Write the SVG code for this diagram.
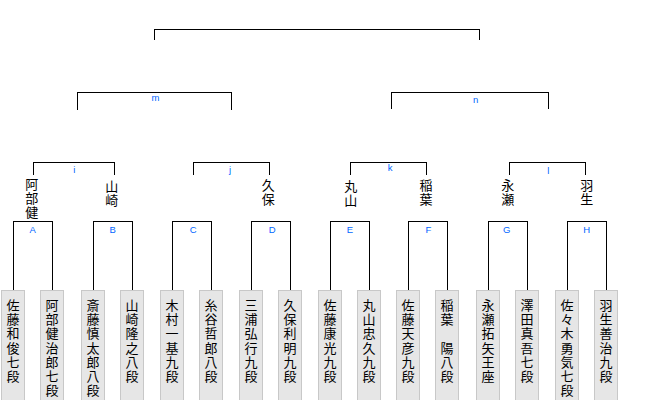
<svg xmlns="http://www.w3.org/2000/svg" width="660" height="400" viewBox="0 0 660 400">
<style>
.ln{fill:none;stroke:#000;stroke-width:1;shape-rendering:crispEdges}
.pb{fill:#e6e6e6;stroke:#c8c8c8;stroke-width:1;shape-rendering:crispEdges}
.nm{font-family:"Noto Sans CJK JP","Noto Sans CJK SC",sans-serif;font-size:13px;fill:#000;writing-mode:vertical-rl;glyph-orientation-vertical:0}
.pn{letter-spacing:1.2px}
.wn{letter-spacing:1px}
.lb{font-family:"Liberation Sans",Arial,sans-serif;font-size:9.5px;fill:#0066ff;text-anchor:middle}
</style>
<rect width="660" height="400" fill="#fff"/>
<g id="connectors">
<path class="ln" d="M154.5,40 V29.5 H479.5 V40"/>
<path class="ln" d="M77.5,110 V92.5 H231.5 V110"/>
<path class="ln" d="M391.5,109 V92.5 H548.5 V109"/>
<path class="ln" d="M33.5,175 V162.5 H114.5 V175"/>
<path class="ln" d="M193.5,175 V162.5 H269.5 V175"/>
<path class="ln" d="M350.5,175 V162.5 H426.5 V175"/>
<path class="ln" d="M509.5,175 V162.5 H585.5 V175"/>
<path class="ln" d="M13.5,290 V221.5 H52.5 V290"/>
<path class="ln" d="M93.5,290 V221.5 H132.5 V290"/>
<path class="ln" d="M172.5,290 V221.5 H211.5 V290"/>
<path class="ln" d="M251.5,290 V221.5 H290.5 V290"/>
<path class="ln" d="M330.5,290 V221.5 H369.5 V290"/>
<path class="ln" d="M408.5,290 V221.5 H447.5 V290"/>
<path class="ln" d="M488.5,290 V221.5 H527.5 V290"/>
<path class="ln" d="M567.5,290 V221.5 H606.5 V290"/>
</g>
<g id="labels">
<text class="lb" x="155.5" y="100.7">m</text>
<text class="lb" x="475.7" y="102.5">n</text>
<text class="lb" x="74.3" y="173.3">i</text>
<text class="lb" x="230" y="173">j</text>
<text class="lb" x="390" y="170.7">k</text>
<text class="lb" x="548.3" y="174">l</text>
<text class="lb" x="32.7" y="233">A</text>
<text class="lb" x="112.7" y="233">B</text>
<text class="lb" x="193.3" y="233">C</text>
<text class="lb" x="272.3" y="233">D</text>
<text class="lb" x="350" y="233">E</text>
<text class="lb" x="428.3" y="233">F</text>
<text class="lb" x="506.7" y="233">G</text>
<text class="lb" x="586.7" y="233">H</text>
</g>
<g id="winners">
<text class="nm wn" x="31.7" y="177.8">阿部健</text>
<text class="nm wn" x="111.7" y="179.5">山崎</text>
<text class="nm wn" x="268.3" y="178.5">久保</text>
<text class="nm wn" x="350.7" y="179.5">丸山</text>
<text class="nm wn" x="426" y="178.5">稲葉</text>
<text class="nm wn" x="507.7" y="178.5">永瀬</text>
<text class="nm wn" x="586.7" y="178.5">羽生</text>
</g>
<g id="p1"><rect class="pb" x="1.5" y="290.5" width="23" height="115"/><text class="nm pn" x="13" y="298.5">佐藤和俊七段</text></g>
<g id="p2"><rect class="pb" x="40.5" y="290.5" width="23" height="115"/><text class="nm pn" x="52" y="298.5">阿部健治郎七段</text></g>
<g id="p3"><rect class="pb" x="81.5" y="290.5" width="23" height="115"/><text class="nm pn" x="93" y="298.5">斎藤慎太郎八段</text></g>
<g id="p4"><rect class="pb" x="120.5" y="290.5" width="23" height="115"/><text class="nm pn" x="132" y="298.5">山崎隆之八段</text></g>
<g id="p5"><rect class="pb" x="160.5" y="290.5" width="23" height="115"/><text class="nm pn" x="172" y="298.5">木村一基九段</text></g>
<g id="p6"><rect class="pb" x="199.5" y="290.5" width="23" height="115"/><text class="nm pn" x="211" y="298.5">糸谷哲郎八段</text></g>
<g id="p7"><rect class="pb" x="239.5" y="290.5" width="23" height="115"/><text class="nm pn" x="251" y="298.5">三浦弘行九段</text></g>
<g id="p8"><rect class="pb" x="278.5" y="290.5" width="23" height="115"/><text class="nm pn" x="290" y="298.5">久保利明九段</text></g>
<g id="p9"><rect class="pb" x="318.5" y="290.5" width="23" height="115"/><text class="nm pn" x="330" y="298.5">佐藤康光九段</text></g>
<g id="p10"><rect class="pb" x="357.5" y="290.5" width="23" height="115"/><text class="nm pn" x="369" y="298.5">丸山忠久九段</text></g>
<g id="p11"><rect class="pb" x="396.5" y="290.5" width="23" height="115"/><text class="nm pn" x="408" y="298.5">佐藤天彦九段</text></g>
<g id="p12"><rect class="pb" x="435.5" y="290.5" width="23" height="115"/><text class="nm pn" x="447" y="298.5">稲葉　陽八段</text></g>
<g id="p13"><rect class="pb" x="476.5" y="290.5" width="23" height="115"/><text class="nm pn" x="488" y="298.5">永瀬拓矢王座</text></g>
<g id="p14"><rect class="pb" x="515.5" y="290.5" width="23" height="115"/><text class="nm pn" x="527" y="298.5">澤田真吾七段</text></g>
<g id="p15"><rect class="pb" x="555.5" y="290.5" width="23" height="115"/><text class="nm pn" x="567" y="298.5">佐々木勇気七段</text></g>
<g id="p16"><rect class="pb" x="594.5" y="290.5" width="23" height="115"/><text class="nm pn" x="606" y="298.5">羽生善治九段</text></g>
</svg>
